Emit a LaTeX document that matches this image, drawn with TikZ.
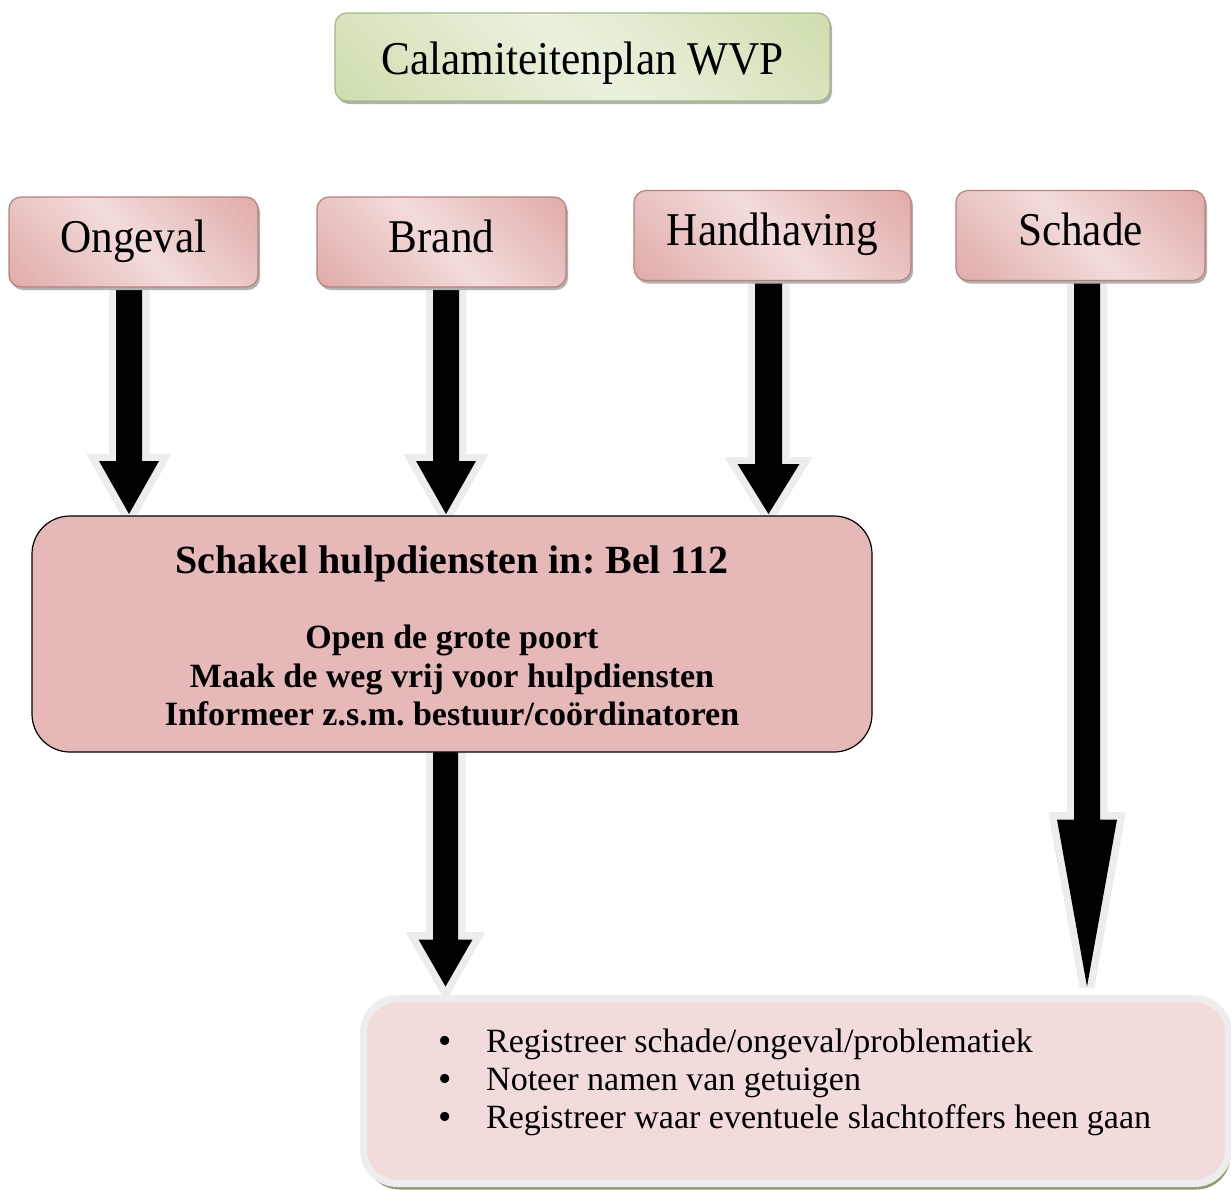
\documentclass[tikz,border=0pt]{standalone}
\usepackage{fontspec}
\setmainfont{Liberation Serif}
\newfontfamily\wvpboxfont{Liberation Serif}[FakeStretch=0.92]
\usetikzlibrary{calc,shadows}
\pgfdeclarelayer{background}
\pgfsetlayers{background,main}
\frenchspacing
\definecolor{pkd}{HTML}{D99694}
\definecolor{pkl}{HTML}{F2DCDB}
\definecolor{gnd}{HTML}{C3D69B}
\definecolor{gnl}{HTML}{EBF1DE}
\definecolor{midfill}{HTML}{E6B9B8}
\definecolor{arrline}{HTML}{EDEDED}
\definecolor{arrshadow}{HTML}{C4C4C4}
\definecolor{botshadow}{HTML}{8E9E6E}
\pgfdeclarehorizontalshading{pinkband}{100bp}{color(0bp)=(pkd); color(50bp)=(pkl); color(100bp)=(pkd)}
\pgfdeclarehorizontalshading{greenband}{100bp}{color(0bp)=(gnd); color(50bp)=(gnl); color(100bp)=(gnd)}

% #1 from, #2 to, #3 dx, #4 shaft half width, #5 head half width, #6 head length, #7 tip dy
\newcommand\wvpblockarrow[7]{%
  \begin{scope}[shift={(4pt,-4pt)}]
    \filldraw[fill=arrshadow,draw=arrshadow,line width=14pt,line join=miter,miter limit=2.5]
      let \p1=#1, \p2=#2, \n1={\x1+(#3)}, \n2={\y2+(#7)}, \n3={\y2+(#7)+(#6)} in
      (\n1-#4,\y1) -- (\n1-#4,\n3) -- (\n1-#5,\n3) -- (\n1,\n2)
      -- (\n1+#5,\n3) -- (\n1+#4,\n3) -- (\n1+#4,\y1) -- cycle;
  \end{scope}
  \draw[draw=arrline,line width=14pt,line join=miter,miter limit=2.5]
      let \p1=#1, \p2=#2, \n1={\x1+(#3)}, \n2={\y2+(#7)}, \n3={\y2+(#7)+(#6)} in
      (\n1-#4,\y1) -- (\n1-#4,\n3) -- (\n1-#5,\n3) -- (\n1,\n2)
      -- (\n1+#5,\n3) -- (\n1+#4,\n3) -- (\n1+#4,\y1) -- cycle;
  \fill[black]
      let \p1=#1, \p2=#2, \n1={\x1+(#3)}, \n2={\y2+(#7)}, \n3={\y2+(#7)+(#6)} in
      (\n1-#4,\y1) -- (\n1-#4,\n3) -- (\n1-#5,\n3) -- (\n1,\n2)
      -- (\n1+#5,\n3) -- (\n1+#4,\n3) -- (\n1+#4,\y1) -- cycle;
}
\newcommand\wvpbullet{\makebox[48pt][l]{\raisebox{-1.5pt}{\fontsize{38}{38}\selectfont •}}}

\begin{document}
\begin{tikzpicture}[x=1pt,y=1pt,
  topbox/.style={rounded corners=12pt, minimum width=249pt, minimum height=90pt,
    inner sep=0pt, outer sep=0pt, draw=pkd!85!black, line width=1.2pt,
    shading=pinkband, shading angle=45,
    general shadow={shadow xshift=2pt, shadow yshift=-3pt, fill=black!30},
    font=\wvpboxfont\fontsize{47}{56}\selectfont, text height=30pt, text depth=10pt},
  titlebox/.style={topbox, minimum width=495pt, minimum height=88pt,
    draw=gnd!85!black, shading=greenband, text height=40pt, text depth=6pt},
  midbox/.style={rounded corners=38pt, minimum width=840pt, minimum height=236pt,
    fill=midfill, draw=black, line width=1.2pt, outer sep=0pt, inner sep=0pt},
  midhead/.style={anchor=base, inner sep=0pt, font=\bfseries\fontsize{40}{48}\selectfont},
  midtext/.style={anchor=base, inner sep=0pt, font=\bfseries\fontsize{34}{40}\selectfont},
  botbox/.style={rounded corners=34pt, minimum width=865pt, minimum height=185pt,
    fill=pkl, draw=arrline, line width=7pt, outer sep=0pt, inner sep=0pt,
    general shadow={shadow xshift=2pt, shadow yshift=-6pt, fill=botshadow}},
  bulline/.style={anchor=base west, inner sep=0pt, font=\fontsize{34}{40}\selectfont}
]
\useasboundingbox (0,0) rectangle (1231,-1189);

\node[titlebox] (title) at (582.5,-57) {Calamiteitenplan WVP};

\node[topbox] (ong) at (133.5,-242) {Ongeval};
\node[topbox] (brand) at (441.5,-242) {Brand};
\node[topbox, minimum width=277pt] (hand) at (772.5,-235.5) {Handhaving};
\node[topbox] (schade) at (1080.5,-235.5) {Schade};

\node[midbox] (mid) at (452,-634) {};
\node[midhead] (h1) at (452,-573) {Schakel hulpdiensten in: Bel 112};
\node[midtext] (m1) at (452,-648) {Open de grote poort};
\node[midtext] (m2) at (452,-687) {Maak de weg vrij voor hulpdiensten};
\node[midtext] (m3) at (452,-725) {Informeer z.s.m. bestuur/coördinatoren};

\node[botbox] (bot) at (796,-1091) {};
\node[bulline] (b1) at (438,-1052) {\wvpbullet Registreer schade/ongeval/problematiek};
\node[bulline] (b2) at (438,-1090) {\wvpbullet Noteer namen van getuigen};
\node[bulline] (b3) at (438,-1128) {\wvpbullet Registreer waar eventuele slachtoffers heen gaan};

\begin{pgfonlayer}{background}
\wvpblockarrow{(ong.south)}{(mid.north)}{-4.5}{13}{30}{53}{2}
\wvpblockarrow{(brand.south)}{(mid.north)}{4.5}{13}{30}{53}{2}
\wvpblockarrow{(hand.south)}{(mid.north)}{-4}{13.5}{31}{50}{2}
\wvpblockarrow{(schade.south)}{(bot.north)}{6.5}{13}{30}{167}{12}
\wvpblockarrow{(mid.south)}{(bot.north)}{-6.5}{12.5}{27}{47}{12}
\end{pgfonlayer}
\end{tikzpicture}
\end{document}
